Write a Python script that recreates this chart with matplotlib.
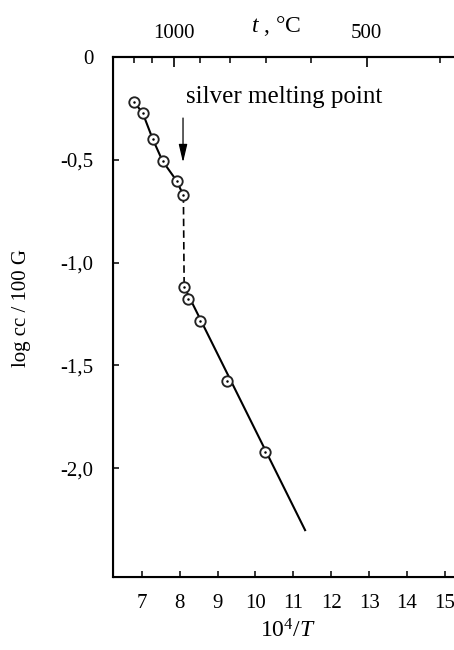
import matplotlib
matplotlib.use('Agg')
import matplotlib.pyplot as plt
import numpy as np
from matplotlib.ticker import FixedLocator, FuncFormatter

plt.rcParams['font.family'] = ['Liberation Serif', 'DejaVu Serif']
plt.rcParams['mathtext.fontset'] = 'custom'
plt.rcParams['mathtext.rm'] = 'Liberation Serif'
plt.rcParams['mathtext.it'] = 'Liberation Serif:italic'

# measured points (10^4/T, log cc/100 G)
x_solid = [6.80, 7.03, 7.29, 7.55, 7.92, 8.10]
y_solid = [-0.218, -0.274, -0.399, -0.506, -0.602, -0.673]
x_liquid = [8.12, 8.23, 8.54, 9.26, 10.25]
y_liquid = [-1.118, -1.179, -1.283, -1.575, -1.924]
# straight line through the lower branch, ends at
x_line_end = 11.31
y_line_end = -2.302

x_ticks = [7, 8, 9, 10, 11, 12, 13, 14, 15]
y_ticks = [0, -0.5, -1.0, -1.5, -2.0]
t_major = [1000, 500]
t_minor = [1200, 1100, 900, 800, 700, 600, 400]
melt_x = 8.09

fig = plt.figure(figsize=(4.54, 6.5), dpi=100)
ax = fig.add_axes([113/454, 1-577/650, 341/454, 0.8])
ax.set_xlim(6.243, 15.238)
ax.set_ylim(-2.530, 0)

# lines
ax.plot(x_solid, y_solid, color='black', lw=1.5, zorder=2)
ax.plot([x_solid[-1], x_liquid[0]], [y_solid[-1], y_liquid[0]], color='black',
        lw=1.2, dashes=(4.5, 2.5), zorder=2)
ax.plot([x_liquid[0], x_line_end], [y_liquid[0], y_line_end], color='black', lw=1.5, zorder=2)

# markers: open circle with dot
xs = x_solid + x_liquid
ys = y_solid + y_liquid
ax.plot(xs, ys, 'o', ms=7.5, mfc='white', mec='#222222', mew=1.35, zorder=3)
ax.plot(xs, ys, 'o', ms=1.8, mfc='black', mec='black', mew=0, zorder=4)

# annotation
ax.text(8.17, -0.225, 'silver melting point', fontsize=18, ha='left', va='baseline')
ax.annotate('', xy=(melt_x, -0.513), xytext=(melt_x, -0.297),
            arrowprops=dict(arrowstyle='-|>,head_length=0.55,head_width=0.13',
                            lw=0.9, color='black', shrinkA=0, shrinkB=0,
                            mutation_scale=20))

# axes styling
for s in ['left', 'bottom', 'top']:
    ax.spines[s].set_linewidth(1.5)
ax.spines['right'].set_visible(False)

ax.xaxis.set_major_locator(FixedLocator(x_ticks))
ax.yaxis.set_major_locator(FixedLocator(y_ticks))
ax.yaxis.set_major_formatter(FuncFormatter(lambda v, p: '0' if v == 0 else ('%.1f' % v).replace('.', ',')))
ax.tick_params(axis='x', direction='in', length=4, width=1.1, labelsize=15, pad=12)
ax.tick_params(axis='y', direction='in', length=4, width=1.1, labelsize=15, pad=14)

# top temperature axis
ax2 = ax.twiny()
ax2.set_xlim(ax.get_xlim())
ax2.spines['right'].set_visible(False)
ax2.spines['top'].set_linewidth(1.5)
ax2.xaxis.set_major_locator(FixedLocator([1e4/(t+273) for t in t_major]))
ax2.set_xticklabels([str(t) for t in t_major])
ax2.xaxis.set_minor_locator(FixedLocator([1e4/(t+273) for t in t_minor]))
ax2.tick_params(axis='x', which='major', direction='in', length=7, width=1.2, labelsize=15, pad=10)
ax2.tick_params(axis='x', which='minor', direction='in', length=4, width=1.1)

fig.text(276/454, 1-26/650, '$t$ , °C', fontsize=17, ha='center', va='center')
fig.text(288/454, 19/650, '$10^4/T$', fontsize=17, ha='center', va='center')
fig.text(22/454, 1-308/650, 'log cc / 100 G', fontsize=15, rotation=90, ha='center', va='center')

fig.savefig('out.png', dpi=100)
